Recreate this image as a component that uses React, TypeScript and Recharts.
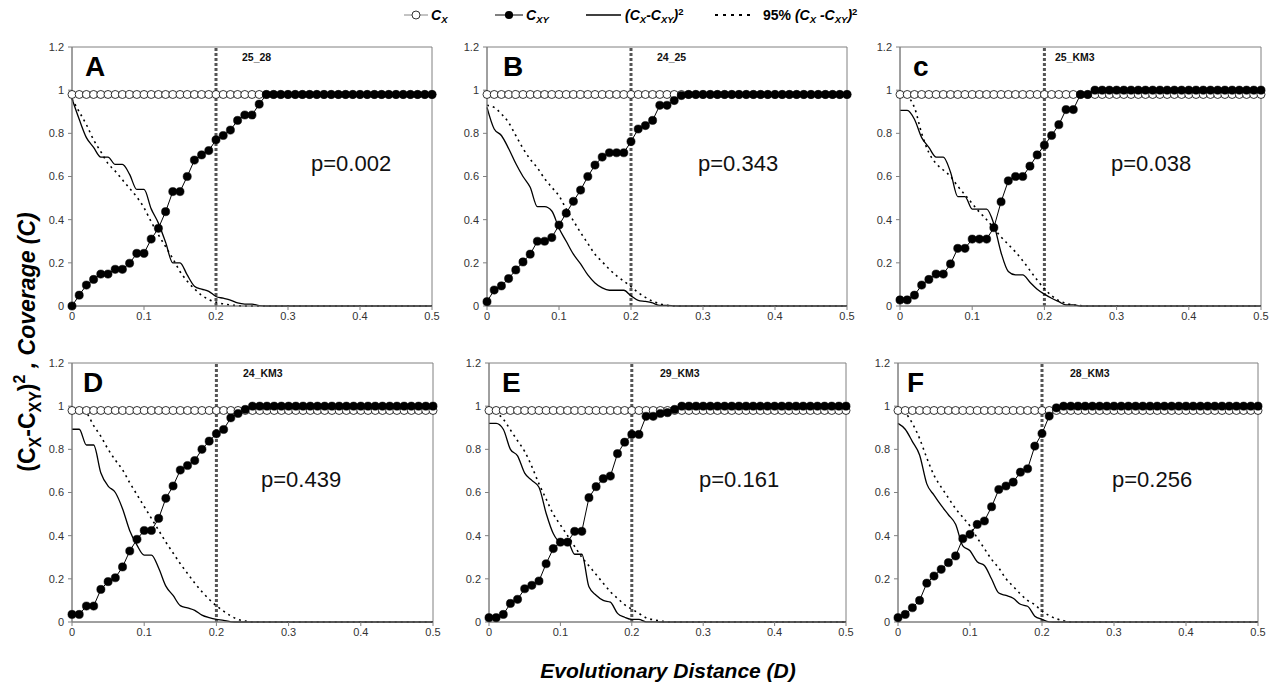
import React from "react"
import { LineChart, Line, XAxis, YAxis, ReferenceLine, ReferenceArea } from "recharts"

// evolutionary distance (x categories)
const dist = [
  0, 0.01, 0.02, 0.03, 0.04, 0.05, 0.06, 0.07, 0.08, 0.09,
  0.1, 0.11, 0.12, 0.13, 0.14, 0.15, 0.16, 0.17, 0.18, 0.19,
  0.2, 0.21, 0.22, 0.23, 0.24, 0.25, 0.26, 0.27, 0.28, 0.29,
  0.3, 0.31, 0.32, 0.33, 0.34, 0.35, 0.36, 0.37, 0.38, 0.39,
  0.4, 0.41, 0.42, 0.43, 0.44, 0.45, 0.46, 0.47, 0.48, 0.49, 0.5,
]

// C_X is the same in all panels
const cx = [
  0.98, 0.98, 0.98, 0.98, 0.98, 0.98, 0.98, 0.98, 0.98, 0.98,
  0.98, 0.98, 0.98, 0.98, 0.98, 0.98, 0.98, 0.98, 0.98, 0.98,
  0.98, 0.98, 0.98, 0.98, 0.98, 0.98, 0.98, 0.98, 0.98, 0.98,
  0.98, 0.98, 0.98, 0.98, 0.98, 0.98, 0.98, 0.98, 0.98, 0.98,
  0.98, 0.98, 0.98, 0.98, 0.98, 0.98, 0.98, 0.98, 0.98, 0.98, 0.98,
]

const xTicks = [0, 0.1, 0.2, 0.3, 0.4, 0.5]
const yTicks = [0, 0.2, 0.4, 0.6, 0.8, 1, 1.2]

// A  25_28
const cxyA = [
  0, 0.05, 0.097, 0.123, 0.148, 0.148, 0.17, 0.17, 0.198, 0.244,
  0.244, 0.31, 0.36, 0.437, 0.53, 0.53, 0.6, 0.676, 0.7, 0.72,
  0.77, 0.79, 0.815, 0.86, 0.885, 0.885, 0.935, 0.98, 0.98, 0.98,
  0.98, 0.98, 0.98, 0.98, 0.98, 0.98, 0.98, 0.98, 0.98, 0.98,
  0.98, 0.98, 0.98, 0.98, 0.98, 0.98, 0.98, 0.98, 0.98, 0.98, 0.98,
]
const sqA = [
  0.96, 0.865, 0.78, 0.735, 0.69, 0.69, 0.656, 0.656, 0.61, 0.54,
  0.54, 0.45, 0.384, 0.295, 0.2, 0.2, 0.144, 0.092, 0.078, 0.068,
  0.044, 0.036, 0.027, 0.014, 0.009, 0.009, 0.002, 0, 0, 0,
  0, 0, 0, 0, 0, 0, 0, 0, 0, 0,
  0, 0, 0, 0, 0, 0, 0, 0, 0, 0, 0,
]
const p95A = [
  0.96, 0.9, 0.84, 0.77, 0.715, 0.66, 0.625, 0.585, 0.545, 0.505,
  0.455, 0.39, 0.33, 0.275, 0.22, 0.16, 0.115, 0.08, 0.05, 0.03,
  0.018, 0.01, 0.005, 0.002, 0, 0, 0, 0, 0, 0,
  0, 0, 0, 0, 0, 0, 0, 0, 0, 0,
  0, 0, 0, 0, 0, 0, 0, 0, 0, 0, 0,
]

// B  24_25
const cxyB = [
  0.02, 0.074, 0.093, 0.127, 0.167, 0.204, 0.24, 0.3, 0.3, 0.317,
  0.375, 0.43, 0.485, 0.537, 0.6, 0.653, 0.69, 0.71, 0.71, 0.71,
  0.762, 0.82, 0.836, 0.86, 0.93, 0.93, 0.952, 0.975, 0.98, 0.98,
  0.98, 0.98, 0.98, 0.98, 0.98, 0.98, 0.98, 0.98, 0.98, 0.98,
  0.98, 0.98, 0.98, 0.98, 0.98, 0.98, 0.98, 0.98, 0.98, 0.98, 0.98,
]
const sqB = [
  0.92, 0.82, 0.79, 0.73, 0.66, 0.6, 0.55, 0.46, 0.46, 0.44,
  0.36, 0.3, 0.24, 0.195, 0.144, 0.107, 0.084, 0.073, 0.073, 0.073,
  0.047, 0.026, 0.021, 0.014, 0.003, 0.003, 0.001, 0, 0, 0,
  0, 0, 0, 0, 0, 0, 0, 0, 0, 0,
  0, 0, 0, 0, 0, 0, 0, 0, 0, 0, 0,
]
const p95B = [
  0.93, 0.92, 0.89, 0.85, 0.79, 0.73, 0.68, 0.64, 0.59, 0.55,
  0.51, 0.45, 0.395, 0.34, 0.29, 0.24, 0.205, 0.17, 0.14, 0.115,
  0.09, 0.062, 0.04, 0.022, 0.01, 0.003, 0, 0, 0, 0,
  0, 0, 0, 0, 0, 0, 0, 0, 0, 0,
  0, 0, 0, 0, 0, 0, 0, 0, 0, 0, 0,
]

// c  25_KM3
const cxyC = [
  0.028, 0.028, 0.05, 0.097, 0.123, 0.148, 0.148, 0.195, 0.267, 0.267,
  0.31, 0.31, 0.31, 0.363, 0.483, 0.58, 0.6, 0.6, 0.648, 0.7,
  0.745, 0.79, 0.84, 0.91, 0.91, 0.98, 0.98, 1, 1, 1,
  1, 1, 1, 1, 1, 1, 1, 1, 1, 1,
  1, 1, 1, 1, 1, 1, 1, 1, 1, 1, 1,
]
const sqC = [
  0.906, 0.906, 0.865, 0.78, 0.735, 0.69, 0.69, 0.62, 0.507, 0.507,
  0.449, 0.449, 0.449, 0.38, 0.247, 0.16, 0.144, 0.144, 0.11, 0.078,
  0.055, 0.036, 0.02, 0.005, 0.005, 0, 0, 0, 0, 0,
  0, 0, 0, 0, 0, 0, 0, 0, 0, 0,
  0, 0, 0, 0, 0, 0, 0, 0, 0, 0, 0,
]
const p95C = [
  0.98, 0.97, 0.92, 0.8, 0.71, 0.66, 0.63, 0.6, 0.555, 0.515,
  0.475, 0.435, 0.4, 0.36, 0.32, 0.285, 0.25, 0.21, 0.165, 0.12,
  0.08, 0.048, 0.025, 0.012, 0.005, 0.002, 0, 0, 0, 0,
  0, 0, 0, 0, 0, 0, 0, 0, 0, 0,
  0, 0, 0, 0, 0, 0, 0, 0, 0, 0, 0,
]

// D  24_KM3
const cxyD = [
  0.035, 0.035, 0.074, 0.074, 0.151, 0.187, 0.205, 0.255, 0.329, 0.383,
  0.424, 0.424, 0.48, 0.573, 0.63, 0.704, 0.725, 0.748, 0.8, 0.838,
  0.872, 0.892, 0.946, 0.966, 0.985, 1, 1, 1, 1, 1,
  1, 1, 1, 1, 1, 1, 1, 1, 1, 1,
  1, 1, 1, 1, 1, 1, 1, 1, 1, 1, 1,
]
const sqD = [
  0.893, 0.893, 0.82, 0.82, 0.69, 0.63, 0.6, 0.525, 0.423, 0.356,
  0.31, 0.31, 0.25, 0.166, 0.123, 0.076, 0.065, 0.054, 0.032, 0.02,
  0.012, 0.008, 0.001, 0, 0, 0, 0, 0, 0, 0,
  0, 0, 0, 0, 0, 0, 0, 0, 0, 0,
  0, 0, 0, 0, 0, 0, 0, 0, 0, 0, 0,
]
const p95D = [
  0.99, 0.99, 0.97, 0.91, 0.86, 0.8, 0.75, 0.705, 0.645, 0.59,
  0.535, 0.48, 0.425, 0.37, 0.32, 0.27, 0.225, 0.18, 0.14, 0.105,
  0.075, 0.05, 0.028, 0.012, 0.004, 0, 0, 0, 0, 0,
  0, 0, 0, 0, 0, 0, 0, 0, 0, 0,
  0, 0, 0, 0, 0, 0, 0, 0, 0, 0, 0,
]

// E  29_KM3
const cxyE = [
  0.02, 0.02, 0.035, 0.086, 0.105, 0.154, 0.17, 0.19, 0.27, 0.34,
  0.37, 0.37, 0.42, 0.42, 0.576, 0.627, 0.664, 0.676, 0.78, 0.833,
  0.869, 0.869, 0.953, 0.953, 0.966, 0.97, 0.985, 1, 1, 1,
  1, 1, 1, 1, 1, 1, 1, 1, 1, 1,
  1, 1, 1, 1, 1, 1, 1, 1, 1, 1, 1,
]
const sqE = [
  0.92, 0.92, 0.893, 0.8, 0.77, 0.69, 0.656, 0.624, 0.504, 0.41,
  0.372, 0.372, 0.314, 0.314, 0.163, 0.124, 0.1, 0.092, 0.04, 0.022,
  0.012, 0.012, 0.001, 0.001, 0, 0, 0, 0, 0, 0,
  0, 0, 0, 0, 0, 0, 0, 0, 0, 0,
  0, 0, 0, 0, 0, 0, 0, 0, 0, 0, 0,
]
const p95E = [
  0.98, 0.97, 0.94, 0.89, 0.84, 0.79, 0.72, 0.64, 0.57, 0.5,
  0.45, 0.4, 0.35, 0.3, 0.26, 0.22, 0.18, 0.14, 0.11, 0.08,
  0.06, 0.04, 0.02, 0.01, 0.005, 0, 0, 0, 0, 0,
  0, 0, 0, 0, 0, 0, 0, 0, 0, 0,
  0, 0, 0, 0, 0, 0, 0, 0, 0, 0, 0,
]

// F  28_KM3
const cxyF = [
  0.02, 0.035, 0.066, 0.1, 0.18, 0.213, 0.244, 0.275, 0.306, 0.386,
  0.406, 0.452, 0.468, 0.534, 0.614, 0.63, 0.648, 0.694, 0.71, 0.815,
  0.873, 0.954, 0.992, 1, 1, 1, 1, 1, 1, 1,
  1, 1, 1, 1, 1, 1, 1, 1, 1, 1,
  1, 1, 1, 1, 1, 1, 1, 1, 1, 1, 1,
]
const sqF = [
  0.92, 0.893, 0.836, 0.774, 0.64, 0.588, 0.54, 0.497, 0.453, 0.353,
  0.33, 0.279, 0.262, 0.199, 0.134, 0.123, 0.11, 0.082, 0.073, 0.027,
  0.012, 0.001, 0, 0, 0, 0, 0, 0, 0, 0,
  0, 0, 0, 0, 0, 0, 0, 0, 0, 0,
  0, 0, 0, 0, 0, 0, 0, 0, 0, 0, 0,
]
const p95F = [
  0.99, 0.97, 0.92, 0.85, 0.76, 0.68, 0.625, 0.575, 0.525, 0.485,
  0.444, 0.39, 0.34, 0.29, 0.25, 0.2, 0.165, 0.13, 0.1, 0.08,
  0.05, 0.03, 0.015, 0.006, 0, 0, 0, 0, 0, 0,
  0, 0, 0, 0, 0, 0, 0, 0, 0, 0,
  0, 0, 0, 0, 0, 0, 0, 0, 0, 0, 0,
]

// layout of each panel's plot area (px on page)
const panels = [
  { letter: "A", tag: "25_28", p: "p=0.002", cxy: cxyA, sq: sqA, p95: p95A, left: 72, top: 47, w: 360, h: 259, lx: 13, tx: 170, px: 239 },
  { letter: "B", tag: "24_25", p: "p=0.343", cxy: cxyB, sq: sqB, p95: p95B, left: 487, top: 47, w: 360, h: 259, lx: 16, tx: 170, px: 211 },
  { letter: "c", tag: "25_KM3", p: "p=0.038", cxy: cxyC, sq: sqC, p95: p95C, left: 900, top: 47, w: 361, h: 259, lx: 13, tx: 155, px: 211 },
  { letter: "D", tag: "24_KM3", p: "p=0.439", cxy: cxyD, sq: sqD, p95: p95D, left: 72, top: 363, w: 361, h: 259, lx: 11, tx: 171, px: 189 },
  { letter: "E", tag: "29_KM3", p: "p=0.161", cxy: cxyE, sq: sqE, p95: p95E, left: 489, top: 363, w: 357, h: 259, lx: 13, tx: 171, px: 210 },
  { letter: "F", tag: "28_KM3", p: "p=0.256", cxy: cxyF, sq: sqF, p95: p95F, left: 898, top: 363, w: 360, h: 259, lx: 9, tx: 172, px: 214 },
]

const FONT = "Arial, 'Liberation Sans', sans-serif"
const YW = 34
const MT = 10
const MR = 12
const XH = 22

function Panel({ cfg }: { cfg: any }) {
  const rows = dist.map((d, i) => ({ d, cx: cx[i], cxy: cfg.cxy[i], sq: cfg.sq[i], p95: cfg.p95[i] }))
  const tick = { fontSize: 11, fill: "#333", fontFamily: FONT }
  return (
    <>
      <div style={{ position: "absolute", left: cfg.left - YW, top: cfg.top - MT }}>
        <LineChart
          width={YW + cfg.w + MR}
          height={MT + cfg.h + XH}
          data={rows}
          margin={{ top: MT, right: MR, left: 0, bottom: 0 }}
        >
          <XAxis
            dataKey="d"
            type="number"
            domain={[0, 0.5]}
            ticks={xTicks}
            tickFormatter={(v) => String(v)}
            height={XH}
            tick={tick}
            stroke="#808080"
            tickSize={4}
            tickMargin={2}
          />
          <YAxis
            domain={[0, 1.2]}
            ticks={yTicks}
            width={YW}
            tick={tick}
            stroke="#808080"
            tickSize={4}
            tickMargin={4}
            tickFormatter={(v) => String(v)}
          />
          <ReferenceArea x1={0} x2={0.5} y1={0} y2={1.2} fill="none" stroke="#808080" strokeWidth={1} />
          <ReferenceLine x={0.2} stroke="#555" strokeWidth={3} strokeDasharray="3 2" zIndex={0} />
          <Line dataKey="p95" type="monotone" stroke="#000" strokeWidth={1.6} strokeDasharray="2 4" dot={false} isAnimationActive={false} />
          <Line dataKey="sq" type="monotone" stroke="#000" strokeWidth={1.3} dot={false} isAnimationActive={false} />
          <Line dataKey="cx" type="linear" stroke="#888" strokeWidth={1} dot={{ r: 4, fill: "#fff", stroke: "#000", strokeWidth: 0.8 }} isAnimationActive={false} />
          <Line dataKey="cxy" type="linear" stroke="#000" strokeWidth={1} dot={{ r: 4.1, fill: "#000", stroke: "#000", strokeWidth: 0.5 }} isAnimationActive={false} />
        </LineChart>
      </div>
      <div style={{ position: "absolute", left: cfg.left + cfg.lx, top: cfg.top + 6, fontFamily: FONT, fontWeight: "bold", fontSize: 28, lineHeight: 1 }}>
        {cfg.letter}
      </div>
      <div style={{ position: "absolute", left: cfg.left + cfg.tx, top: cfg.top + 5, fontFamily: FONT, fontWeight: "bold", fontSize: 10.5, lineHeight: 1, color: "#111" }}>
        {cfg.tag}
      </div>
      <div style={{ position: "absolute", left: cfg.left + cfg.px, top: cfg.top + 106, fontFamily: FONT, fontSize: 22, lineHeight: 1, color: "#111" }}>
        {cfg.p}
      </div>
    </>
  )
}

function LegendBar() {
  const ts = { fontFamily: FONT, fontSize: 14, fontWeight: "bold" as const, fontStyle: "italic" as const }
  const y = 15
  const sub = 9.5
  return (
    <svg width={1285} height={32} style={{ position: "absolute", left: 0, top: 0 }}>
      <line x1={404} x2={428} y1={y} y2={y} stroke="#888" strokeWidth={1} />
      <circle cx={416} cy={y} r={4} fill="#fff" stroke="#000" strokeWidth={0.8} />
      <text x={431} y={y + 5} {...ts}>
        C<tspan fontSize={sub} dy={3}>X</tspan>
      </text>
      <line x1={495} x2={523} y1={y} y2={y} stroke="#000" strokeWidth={1} />
      <circle cx={509} cy={y} r={4.1} fill="#000" />
      <text x={526} y={y + 5} {...ts}>
        C<tspan fontSize={sub} dy={3}>XY</tspan>
      </text>
      <line x1={586} x2={621} y1={y} y2={y} stroke="#000" strokeWidth={1.4} />
      <text x={625} y={y + 5} {...ts}>
        (C<tspan fontSize={sub} dy={3}>X</tspan>
        <tspan dy={-3}>-C</tspan>
        <tspan fontSize={sub} dy={3}>XY</tspan>
        <tspan dy={-3}>)</tspan>
        <tspan fontSize={sub} dy={-5} fontStyle="normal">2</tspan>
      </text>
      <line x1={715} x2={752} y1={y} y2={y} stroke="#000" strokeWidth={2.2} strokeDasharray="3 5" />
      <text x={763} y={y + 5} {...ts} fontStyle="normal">
        95% <tspan fontStyle="italic">(C</tspan>
        <tspan fontSize={sub} dy={3} fontStyle="italic">X</tspan>
        <tspan dy={-3} fontStyle="italic"> -C</tspan>
        <tspan fontSize={sub} dy={3} fontStyle="italic">XY</tspan>
        <tspan dy={-3} fontStyle="italic">)</tspan>
        <tspan fontSize={sub} dy={-5}>2</tspan>
      </text>
    </svg>
  )
}

export default function App() {
  return (
    <div style={{ position: "absolute", left: 0, top: 0, width: 1285, height: 691, background: "#fff", overflow: "hidden" }}>
      <LegendBar />
      {panels.map((p) => (
        <Panel key={p.letter} cfg={p} />
      ))}
      <svg width={60} height={691} style={{ position: "absolute", left: 0, top: 0 }}>
        <text
          transform="translate(35 342) rotate(-90)"
          textAnchor="middle"
          fontFamily={FONT}
          fontSize={23}
          fontWeight="bold"
        >
          (C<tspan fontSize={16} dy={6}>X</tspan>
          <tspan dy={-6}>-C</tspan>
          <tspan fontSize={16} dy={6}>XY</tspan>
          <tspan dy={-6}>)</tspan>
          <tspan fontSize={16} dy={-10}>2</tspan>
          <tspan dy={10} fontStyle="italic"> , Coverage (C)</tspan>
        </text>
      </svg>
      <div
        style={{
          position: "absolute",
          left: 0,
          width: 1336,
          top: 660,
          textAlign: "center",
          fontFamily: FONT,
          fontSize: 21,
          fontWeight: "bold",
          fontStyle: "italic",
          lineHeight: 1,
        }}
      >
        Evolutionary Distance (D)
      </div>
    </div>
  )
}
